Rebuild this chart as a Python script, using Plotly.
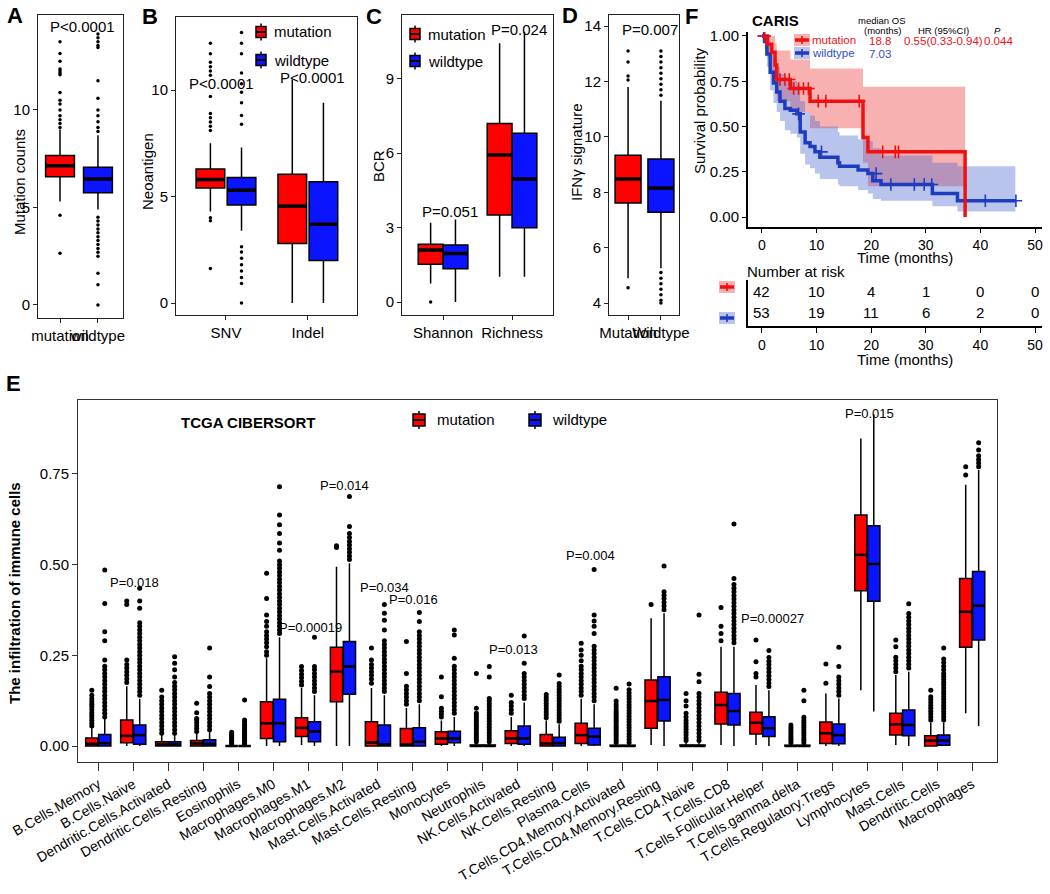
import plotly.graph_objects as go

W, H = 1050, 894
FONT = "Arial, Liberation Sans, Helvetica, sans-serif"
RED = "#FF0000"
BLUE = "#0A14FF"

def px(x):
    return x / W

def py(y):
    return 1 - y / H

# ---------------- DATA ----------------
# Panel A : mutation counts
A_groups = ["mutation", "wildtype"]
A_q1 = [6.58, 5.76]
A_med = [7.14, 6.46]
A_q3 = [7.66, 7.06]
A_lo = [5.3, 4.9]
A_hi = [9.0, 8.7]
A_out_mut = [13.5, 12.9, 12.5, 12.1, 12.0, 11.9, 11.8, 10.9, 10.5, 10.3, 10.0, 9.7, 9.5, 9.3, 9.1, 4.6, 2.65]
A_out_wt = [13.9, 13.7, 13.5, 13.3, 13.2, 11.5, 10.6, 10.0, 9.7, 9.4, 9.1, 8.9,
            4.5, 4.3, 4.1, 3.9, 3.7, 3.5, 3.3, 3.1, 2.9, 2.7, 2.5, 1.62, 1.03, 0.0]
A_p = "P<0.0001"

# Panel B : neoantigen
B_cats = ["SNV", "Indel"]
B_mut_q1 = [5.4, 2.8]
B_mut_med = [5.8, 4.55]
B_mut_q3 = [6.3, 6.05]
B_mut_lo = [4.3, 0.0]
B_mut_hi = [7.5, 10.5]
B_wt_q1 = [4.6, 2.0]
B_wt_med = [5.3, 3.7]
B_wt_q3 = [5.9, 5.7]
B_wt_lo = [3.4, 0.0]
B_wt_hi = [7.3, 9.4]
B_mut_out = [[12.2, 11.7, 11.3, 11.1, 10.9, 10.7, 9.7, 8.9, 8.7, 8.5, 8.3, 8.1, 4.0, 3.86, 1.62], []]
B_wt_out = [[12.7, 12.2, 11.7, 10.8, 10.3, 9.9, 9.4, 8.8, 8.4, 2.64, 2.4, 2.1, 1.8, 1.5, 1.2, 0.92, 0.0], []]
B_p = ["P<0.0001", "P<0.0001"]
B_p_y = [10.33, 10.6]

# Panel C : BCR
C_cats = ["Shannon", "Richness"]
C_mut_q1 = [1.53, 3.51]
C_mut_med = [2.1, 5.93]
C_mut_q3 = [2.33, 7.2]
C_mut_lo = [0.75, 1.02]
C_mut_hi = [3.2, 10.43]
C_wt_q1 = [1.34, 3.0]
C_wt_med = [1.96, 4.96]
C_wt_q3 = [2.3, 6.8]
C_wt_lo = [0.0, 1.02]
C_wt_hi = [3.33, 10.9]
C_mut_out = [[0.0], []]
C_p = ["P=0.051", "P=0.024"]
C_p_y = [3.64, 10.97]

# Panel D : IFNg signature
D_groups = ["Mutation", "Wildtype"]
D_q1 = [7.61, 7.28]
D_med = [8.48, 8.15]
D_q3 = [9.34, 9.2]
D_lo = [4.9, 5.26]
D_hi = [11.8, 11.3]
D_out_mut = [13.1, 12.7, 12.2, 12.05, 4.55]
D_out_wt = [13.1, 12.9, 12.7, 12.5, 12.3, 12.1, 11.9, 11.7, 11.5,
            5.1, 4.9, 4.7, 4.5, 4.3, 4.1, 4.0]
D_p = "P=0.007"

# Panel F : Kaplan-Meier (CARIS)
km_t_mut = [0, 1.0, 1.8, 2.4, 2.7, 5.2, 8.8, 18.5, 19.4, 37.2]
km_s_mut = [1.0, 0.955, 0.91, 0.84, 0.76, 0.71, 0.64, 0.44, 0.36, 0.0]
km_up_mut = [1.0, 1.0, 1.0, 0.96, 0.92, 0.87, 0.82, 0.72, 0.72, 0.0]
km_lo_mut = [1.0, 0.88, 0.80, 0.72, 0.64, 0.58, 0.49, 0.30, 0.17, 0.0]
cens_t_mut = [0.5, 3.3, 4.2, 5.0, 5.8, 6.7, 7.6, 8.5, 10.3, 11.7, 17.8, 22.1, 24.4, 25.0]
cens_s_mut = [1.0, 0.76, 0.76, 0.76, 0.71, 0.71, 0.71, 0.71, 0.64, 0.64, 0.64, 0.36, 0.36, 0.36]

km_t_wt = [0, 0.5, 0.9, 1.5, 2.1, 2.7, 3.3, 4.2, 5.2, 6.4, 7.0, 7.9, 8.8, 9.7, 10.6,
           13.9, 14.2, 17.6, 19.4, 20.3, 21.8, 31.2, 35.8, 46.4]
km_s_wt = [1.0, 0.97, 0.90, 0.80, 0.74, 0.69, 0.64, 0.60, 0.59, 0.57, 0.47, 0.41, 0.39,
           0.36, 0.33, 0.30, 0.28, 0.26, 0.24, 0.20, 0.18, 0.13, 0.09, 0.09]
km_up_wt = [1.0, 1.0, 1.0, 0.92, 0.87, 0.83, 0.79, 0.76, 0.75, 0.73, 0.64, 0.58, 0.56,
            0.53, 0.50, 0.47, 0.45, 0.43, 0.42, 0.38, 0.34, 0.30, 0.28, 0.28]
km_lo_wt = [1.0, 0.93, 0.83, 0.70, 0.63, 0.58, 0.53, 0.48, 0.46, 0.44, 0.35, 0.29, 0.27,
            0.24, 0.21, 0.18, 0.17, 0.15, 0.13, 0.10, 0.09, 0.06, 0.03, 0.03]
cens_t_wt = [0.3, 6.7, 10.9, 20.9, 23.6, 27.9, 29.7, 31.1, 40.9, 46.5]
cens_s_wt = [1.0, 0.57, 0.36, 0.24, 0.18, 0.18, 0.18, 0.18, 0.09, 0.09]

risk_times = [0, 10, 20, 30, 40, 50]
risk_mut = [42, 10, 4, 1, 0, 0]
risk_wt = [53, 19, 11, 6, 2, 0]

# Panel E : TCGA CIBERSORT
E_cats = ["B.Cells.Memory", "B.Cells.Naive", "Dendritic.Cells.Activated", "Dendritic.Cells.Resting",
          "Eosinophils", "Macrophages.M0", "Macrophages.M1", "Macrophages.M2",
          "Mast.Cells.Activated", "Mast.Cells.Resting", "Monocytes", "Neutrophils",
          "NK.Cells.Activated", "NK.Cells.Resting", "Plasma.Cells",
          "T.Cells.CD4.Memory.Activated", "T.Cells.CD4.Memory.Resting", "T.Cells.CD4.Naive",
          "T.Cells.CD8", "T.Cells.Follicular.Helper", "T.Cells.gamma.delta",
          "T.Cells.Regulatory.Tregs", "Lymphocytes", "Mast.Cells", "Dendritic.Cells", "Macrophages"]
E_mut_q1 = [0.0, 0.009, 0.0, 0.0, 0.0, 0.021, 0.026, 0.122, 0.0, 0.0, 0.005, 0.0, 0.007,
            0.0, 0.007, 0.0, 0.049, 0.0, 0.061, 0.033, 0.0, 0.007, 0.428, 0.03, 0.0, 0.272]
E_mut_med = [0.006, 0.028, 0.004, 0.007, 0.0, 0.0625, 0.05, 0.205, 0.01, 0.004, 0.021, 0.0, 0.021,
             0.007, 0.03, 0.0, 0.124, 0.0, 0.113, 0.064, 0.0, 0.035, 0.527, 0.06, 0.015, 0.37]
E_mut_q3 = [0.022, 0.072, 0.012, 0.015, 0.0, 0.122, 0.078, 0.272, 0.067, 0.048, 0.039, 0.003, 0.042,
            0.032, 0.0625, 0.002, 0.182, 0.003, 0.148, 0.093, 0.002, 0.066, 0.637, 0.09, 0.028, 0.462]
E_mut_lo = [0.0, 0.0, 0.0, 0.0, 0.0, 0.0, 0.003, 0.0, 0.0, 0.0, 0.0, 0.0, 0.0,
            0.0, 0.0, 0.0, 0.003, 0.0, 0.003, 0.003, 0.0, 0.0, 0.154, 0.003, 0.0, 0.09]
E_mut_hi = [0.05, 0.165, 0.03, 0.035, 0.0, 0.242, 0.16, 0.494, 0.16, 0.105, 0.07, 0.008, 0.08,
            0.07, 0.13, 0.006, 0.352, 0.01, 0.274, 0.168, 0.005, 0.145, 0.848, 0.196, 0.065, 0.72]
E_wt_q1 = [0.0, 0.005, 0.0, 0.0, 0.0, 0.012, 0.012, 0.143, 0.0, 0.0, 0.009, 0.0, 0.005,
           0.0, 0.003, 0.0, 0.069, 0.0, 0.058, 0.026, 0.0, 0.006, 0.399, 0.028, 0.002, 0.292]
E_wt_med = [0.008, 0.03, 0.004, 0.006, 0.0, 0.0625, 0.04, 0.219, 0.005, 0.012, 0.021, 0.0, 0.021,
            0.008, 0.026, 0.0, 0.127, 0.0, 0.0965, 0.049, 0.0, 0.03, 0.502, 0.058, 0.015, 0.387]
E_wt_q3 = [0.032, 0.058, 0.012, 0.017, 0.0, 0.129, 0.067, 0.288, 0.058, 0.05, 0.041, 0.003, 0.055,
           0.024, 0.049, 0.002, 0.191, 0.003, 0.145, 0.081, 0.002, 0.061, 0.6075, 0.099, 0.03, 0.481]
E_wt_lo = [0.0] * 22 + [0.095, 0.0, 0.0, 0.055]
E_wt_hi = [0.075, 0.13, 0.03, 0.04, 0.0, 0.30, 0.14, 0.504, 0.14, 0.115, 0.08, 0.008, 0.12,
           0.06, 0.115, 0.006, 0.366, 0.01, 0.274, 0.154, 0.005, 0.131, 0.915, 0.205, 0.065, 0.761]
E_mut_out = [
    [0.055, 0.062, 0.07, 0.078, 0.085, 0.092, 0.10, 0.108, 0.115, 0.122, 0.13, 0.14, 0.154],
    [0.175, 0.185, 0.195, 0.205, 0.215, 0.225, 0.237, 0.39, 0.40],
    [0.035, 0.045, 0.055, 0.065, 0.075, 0.085, 0.095, 0.105, 0.115, 0.125, 0.135, 0.154],
    [0.04, 0.048, 0.056, 0.064, 0.072, 0.076, 0.092, 0.118],
    [0.004, 0.008, 0.012, 0.016, 0.02, 0.024, 0.028, 0.032, 0.038],
    [0.25, 0.26, 0.274, 0.285, 0.295, 0.305, 0.315, 0.33, 0.343, 0.361, 0.407, 0.476],
    [0.168, 0.178, 0.188, 0.198, 0.208, 0.219],
    [0.547, 0.552],
    [0.173, 0.185, 0.195, 0.205, 0.215, 0.225, 0.237, 0.27],
    [0.115, 0.125, 0.135, 0.145, 0.155, 0.165, 0.2, 0.288],
    [0.08, 0.088, 0.096, 0.104, 0.136, 0.19],
    [0.012, 0.018, 0.024, 0.03, 0.036, 0.042, 0.048, 0.054, 0.06, 0.066, 0.072, 0.078, 0.084, 0.09, 0.104, 0.2],
    [0.09, 0.1, 0.11, 0.12, 0.14],
    [0.078, 0.086, 0.094, 0.102, 0.11, 0.118, 0.126, 0.134, 0.142],
    [0.14, 0.15, 0.16, 0.17, 0.18, 0.19, 0.2, 0.21, 0.22, 0.235, 0.25, 0.265, 0.283],
    [0.01, 0.016, 0.022, 0.028, 0.034, 0.04, 0.046, 0.052, 0.058, 0.064, 0.07, 0.076, 0.082, 0.088,
     0.094, 0.1, 0.108, 0.116, 0.124, 0.159],
    [0.39],
    [0.015, 0.022, 0.03, 0.038, 0.046, 0.054, 0.062, 0.07, 0.08, 0.09, 0.11, 0.125, 0.145],
    [0.29, 0.31, 0.33, 0.382],
    [0.19, 0.2, 0.232, 0.292],
    [0.009, 0.015, 0.021, 0.027, 0.033, 0.039, 0.045, 0.051, 0.058],
    [0.173, 0.226],
    [],
    [0.205, 0.215, 0.225, 0.235, 0.245, 0.274, 0.292],
    [0.072, 0.08, 0.088, 0.096, 0.104, 0.112, 0.12, 0.128, 0.136, 0.154],
    [0.747, 0.77],
]
E_wt_out = [
    [0.08, 0.09, 0.1, 0.11, 0.12, 0.13, 0.14, 0.15, 0.16, 0.17, 0.18, 0.19, 0.2, 0.21, 0.22, 0.237,
     0.29, 0.315, 0.393, 0.485],
    [0.14, 0.15, 0.16, 0.17, 0.18, 0.19, 0.2, 0.21, 0.22, 0.23, 0.24, 0.25, 0.26, 0.27, 0.28, 0.29,
     0.3, 0.31, 0.32, 0.33, 0.34, 0.38, 0.40, 0.435],
    [0.035, 0.045, 0.055, 0.065, 0.075, 0.085, 0.095, 0.105, 0.115, 0.125, 0.135, 0.145, 0.155,
     0.165, 0.175, 0.19, 0.21, 0.228, 0.246],
    [0.045, 0.055, 0.065, 0.075, 0.085, 0.095, 0.105, 0.115, 0.125, 0.135, 0.145, 0.164, 0.19, 0.27],
    [0.004, 0.008, 0.012, 0.016, 0.02, 0.024, 0.028, 0.032, 0.036, 0.04, 0.045, 0.05, 0.055, 0.06,
     0.066, 0.072, 0.127],
    [0.31, 0.32, 0.33, 0.34, 0.35, 0.36, 0.37, 0.38, 0.39, 0.40, 0.41, 0.42, 0.43, 0.44, 0.45,
     0.46, 0.47, 0.48, 0.49, 0.50, 0.51, 0.54, 0.56, 0.586, 0.61, 0.637, 0.715],
    [0.15, 0.16, 0.17, 0.18, 0.19, 0.2, 0.21, 0.219, 0.30],
    [0.514, 0.524, 0.534, 0.544, 0.554, 0.564, 0.575, 0.586, 0.605, 0.688],
    [0.15, 0.16, 0.17, 0.18, 0.19, 0.2, 0.21, 0.22, 0.23, 0.24, 0.25, 0.26, 0.27, 0.28, 0.29,
     0.32, 0.347, 0.366, 0.39],
    [0.125, 0.135, 0.145, 0.155, 0.165, 0.175, 0.185, 0.195, 0.205, 0.215, 0.225, 0.235, 0.245,
     0.255, 0.265, 0.275, 0.285, 0.295, 0.305, 0.315, 0.343, 0.368],
    [0.09, 0.1, 0.11, 0.12, 0.13, 0.14, 0.15, 0.16, 0.17, 0.18, 0.19, 0.2, 0.21, 0.22, 0.242,
     0.306, 0.32],
    [0.012, 0.02, 0.028, 0.036, 0.044, 0.052, 0.06, 0.068, 0.076, 0.084, 0.092, 0.1, 0.108, 0.116,
     0.124, 0.131, 0.19, 0.219],
    [0.131, 0.14, 0.15, 0.16, 0.17, 0.18, 0.19, 0.2, 0.228, 0.303],
    [0.068, 0.076, 0.084, 0.092, 0.1, 0.108, 0.116, 0.124, 0.132, 0.14, 0.148, 0.156, 0.164,
     0.172, 0.196],
    [0.125, 0.135, 0.145, 0.155, 0.165, 0.175, 0.185, 0.195, 0.205, 0.215, 0.225, 0.235, 0.245,
     0.255, 0.265, 0.275, 0.31, 0.33, 0.345, 0.361, 0.487],
    [0.01, 0.018, 0.026, 0.034, 0.042, 0.05, 0.058, 0.066, 0.074, 0.082, 0.09, 0.098, 0.106,
     0.114, 0.122, 0.13, 0.138, 0.146, 0.155, 0.171],
    [0.376, 0.386, 0.396, 0.406, 0.416, 0.425, 0.496],
    [0.015, 0.025, 0.035, 0.045, 0.055, 0.065, 0.075, 0.085, 0.095, 0.105, 0.115, 0.125, 0.135,
     0.145, 0.177, 0.198, 0.361],
    [0.285, 0.295, 0.305, 0.315, 0.325, 0.335, 0.345, 0.355, 0.365, 0.375, 0.385, 0.395, 0.405,
     0.415, 0.425, 0.435, 0.445, 0.462, 0.612],
    [0.164, 0.174, 0.184, 0.194, 0.204, 0.214, 0.224, 0.234, 0.244, 0.263],
    [0.009, 0.016, 0.023, 0.03, 0.037, 0.044, 0.051, 0.058, 0.065, 0.072, 0.079, 0.125, 0.154],
    [0.14, 0.15, 0.16, 0.17, 0.18, 0.19, 0.219, 0.272],
    [],
    [0.215, 0.225, 0.235, 0.245, 0.255, 0.265, 0.275, 0.285, 0.295, 0.305, 0.315, 0.325, 0.335,
     0.345, 0.355, 0.365, 0.392],
    [0.072, 0.08, 0.088, 0.096, 0.104, 0.112, 0.12, 0.128, 0.136, 0.144, 0.152, 0.16, 0.168,
     0.176, 0.184, 0.192, 0.2, 0.21, 0.22, 0.23, 0.24, 0.27],
    [0.77, 0.78, 0.79, 0.8, 0.816, 0.836],
]
E_p_text = ["P=0.018", "P=0.00019", "P=0.014", "P=0.034", "P=0.016",
            "P=0.013", "P=0.004", "P=0.00027", "P=0.015"]
E_p_x = [1.05, 6.06, 7.03, 8.18, 9.03, 11.87, 14.07, 19.3, 22.05]
E_p_y = [0.452, 0.328, 0.717, 0.437, 0.405, 0.267, 0.526, 0.352, 0.918]

# ---------------- FIGURE ----------------
fig = go.Figure()
layout = dict(width=W, height=H, margin=dict(l=0, r=0, t=0, b=0, autoexpand=False),
              paper_bgcolor="white", plot_bgcolor="white", showlegend=False,
              font=dict(family=FONT, color="black"), hovermode=False)
annotations = []
shapes = []


def ax_ids(n):
    return ("x" if n == 1 else f"x{n}"), ("y" if n == 1 else f"y{n}")


def set_axes(n, xd, yd, xr, yr, xtv, xtt, ytv, ytt, mirror=True, lw=1, lc="#222",
             xangle=0, fs=14, xfs=None, xticklen=4, yticklen=4, yshow=True, yticks="outside"):
    xid, yid = ax_ids(n)
    xk = "xaxis" if n == 1 else f"xaxis{n}"
    yk = "yaxis" if n == 1 else f"yaxis{n}"
    layout[xk] = dict(domain=[px(xd[0]), px(xd[1])], range=xr, anchor=yid, showline=True,
                      mirror=mirror, linecolor=lc, linewidth=lw, ticks="outside",
                      ticklen=xticklen, tickcolor=lc, tickwidth=1, tickvals=xtv, ticktext=xtt,
                      tickangle=xangle, showgrid=False, zeroline=False, automargin=False,
                      tickfont=dict(size=xfs or fs, color="black", family=FONT))
    layout[yk] = dict(domain=[py(yd[1]), py(yd[0])], range=yr, anchor=xid, showline=yshow,
                      mirror=mirror, linecolor=lc, linewidth=lw, ticks=yticks,
                      ticklen=yticklen, tickcolor=lc, tickwidth=1, tickvals=ytv, ticktext=ytt,
                      showgrid=False, zeroline=False, automargin=False,
                      tickfont=dict(size=fs, color="black", family=FONT))


def add_boxes(n, pos, q1, med, q3, lo, hi, color, width, lw=1.5, medw=3.5):
    xid, yid = ax_ids(n)
    fig.add_trace(go.Box(x=pos, q1=q1, median=med, q3=q3, lowerfence=lo, upperfence=hi,
                         orientation="v", width=width, fillcolor=color,
                         line=dict(color="black", width=lw), whiskerwidth=0,
                         boxpoints=False, xaxis=xid, yaxis=yid, hoverinfo="skip"))
    mx, my = [], []
    for p, m in zip(pos, med):
        mx += [p - width / 2, p + width / 2, None]
        my += [m, m, None]
    fig.add_trace(go.Scatter(x=mx, y=my, mode="lines", line=dict(color="black", width=medw),
                             xaxis=xid, yaxis=yid, hoverinfo="skip"))


def add_points(n, pos, outs, size=3.5):
    xid, yid = ax_ids(n)
    xs, ys = [], []
    for p, o in zip(pos, outs):
        xs += [p] * len(o)
        ys += list(o)
    fig.add_trace(go.Scatter(x=xs, y=ys, mode="markers",
                             marker=dict(color="black", size=size, line=dict(width=0)),
                             xaxis=xid, yaxis=yid, hoverinfo="skip"))


def text(x, y, t, size=14, color="black", xanchor="center", yanchor="middle", bold=False,
         angle=0, xref="paper", yref="paper", italic=False):
    if bold:
        t = f"<b>{t}</b>"
    if italic:
        t = f"<i>{t}</i>"
    annotations.append(dict(x=x, y=y, xref=xref, yref=yref, text=t, showarrow=False,
                            xanchor=xanchor, yanchor=yanchor, textangle=angle,
                            font=dict(size=size, color=color, family=FONT)))


def box_icon(xc, yc, color, w=11, h=12):
    shapes.append(dict(type="line", xref="paper", yref="paper", x0=px(xc), x1=px(xc),
                       y0=py(yc - h / 2 - 3), y1=py(yc + h / 2 + 3),
                       line=dict(color="black", width=1.5)))
    shapes.append(dict(type="rect", xref="paper", yref="paper", x0=px(xc - w / 2),
                       x1=px(xc + w / 2), y0=py(yc + h / 2), y1=py(yc - h / 2),
                       fillcolor=color, line=dict(color="black", width=1.5)))
    shapes.append(dict(type="line", xref="paper", yref="paper", x0=px(xc - w / 2),
                       x1=px(xc + w / 2), y0=py(yc), y1=py(yc),
                       line=dict(color="black", width=2)))


# ---- Panel A ----
set_axes(1, (38, 123), (15, 318), [0.42, 2.66], [-0.67, 14.87], [1, 2], A_groups,
         [0, 5, 10], ["0", "5", "10"], fs=15)
A_pos = [1, 2]
add_boxes(1, [A_pos[0]], [A_q1[0]], [A_med[0]], [A_q3[0]], [A_lo[0]], [A_hi[0]], RED, 0.76)
add_boxes(1, [A_pos[1]], [A_q1[1]], [A_med[1]], [A_q3[1]], [A_lo[1]], [A_hi[1]], BLUE, 0.76)
add_points(1, A_pos, [A_out_mut, A_out_wt])
text(1.6, 14.26, A_p, size=15, xref="x", yref="y")
text(px(20), py(182), "Mutation counts", size=15, angle=-90)

# ---- Panel B ----
set_axes(2, (176, 357), (17, 315), [0.39, 2.6], [-0.56, 13.43], [1, 2], B_cats,
         [0, 5, 10], ["0", "5", "10"], fs=15)
B_off = 0.19
B_mpos = [i + 1 - B_off for i in range(2)]
B_wpos = [i + 1 + B_off for i in range(2)]
add_boxes(2, B_mpos, B_mut_q1, B_mut_med, B_mut_q3, B_mut_lo, B_mut_hi, RED, 0.35)
add_boxes(2, B_wpos, B_wt_q1, B_wt_med, B_wt_q3, B_wt_lo, B_wt_hi, BLUE, 0.35)
add_points(2, B_mpos + B_wpos, B_mut_out + B_wt_out)
text(0.94, B_p_y[0], B_p[0], size=15, xref="x2", yref="y2")
text(2.06, B_p_y[1], B_p[1], size=15, xref="x2", yref="y2")
text(px(147), py(172), "Neoantigen", size=15, angle=-90)
box_icon(261, 32, RED, w=10, h=11)
box_icon(261, 60, BLUE, w=10, h=11)
text(px(272), py(32), "mutation", size=15, xanchor="left")
text(px(272), py(60), "wildtype", size=15, xanchor="left")

# ---- Panel C ----
set_axes(3, (402, 553), (15, 315), [0.405, 2.594], [-0.52, 11.57], [1, 2], C_cats,
         [0, 3, 6, 9], ["0", "3", "6", "9"], fs=15)
C_off = 0.18
C_mpos = [i + 1 - C_off for i in range(2)]
C_wpos = [i + 1 + C_off for i in range(2)]
add_boxes(3, C_mpos, C_mut_q1, C_mut_med, C_mut_q3, C_mut_lo, C_mut_hi, RED, 0.36)
add_boxes(3, C_wpos, C_wt_q1, C_wt_med, C_wt_q3, C_wt_lo, C_wt_hi, BLUE, 0.36)
add_points(3, C_mpos, C_mut_out)
text(1.1, C_p_y[0], C_p[0], size=15, xref="x3", yref="y3")
text(2.1, C_p_y[1], C_p[1], size=15, xref="x3", yref="y3")
text(px(378), py(166), "BCR", size=15, angle=-90)
box_icon(415, 34, RED, w=10, h=11)
box_icon(415, 61, BLUE, w=10, h=11)
text(px(426), py(34), "mutation", size=15, xanchor="left")
text(px(426), py(61), "wildtype", size=15, xanchor="left")

# ---- Panel D ----
set_axes(4, (609, 679), (15, 315), [0.42, 2.55], [3.57, 14.4], [1, 2], D_groups,
         [4, 6, 8, 10, 12, 14], ["4", "6", "8", "10", "12", "14"], fs=15)
add_boxes(4, [1], [D_q1[0]], [D_med[0]], [D_q3[0]], [D_lo[0]], [D_hi[0]], RED, 0.79)
add_boxes(4, [2], [D_q1[1]], [D_med[1]], [D_q3[1]], [D_lo[1]], [D_hi[1]], BLUE, 0.79)
add_points(4, [1, 2], [D_out_mut, D_out_wt])
text(1.67, 13.86, D_p, size=15, xref="x4", yref="y4")
text(px(576), py(152), "IFNγ signature", size=15, angle=-90)

# ---- Panel F (KM) ----
set_axes(5, (748, 1042), (32, 227), [-2.56, 51.28], [-0.055, 1.022],
         [0, 10, 20, 30, 40, 50], ["0", "10", "20", "30", "40", "50"],
         [0, 0.25, 0.5, 0.75, 1.0], ["0.00", "0.25", "0.50", "0.75", "1.00"],
         mirror=False, lw=2, lc="black", fs=15, xfs=14, xticklen=4, yticklen=4)
fig.add_trace(go.Scatter(x=km_t_mut, y=km_lo_mut, mode="lines", line=dict(width=0, shape="hv"),
                         xaxis="x5", yaxis="y5", hoverinfo="skip"))
fig.add_trace(go.Scatter(x=km_t_mut, y=km_up_mut, mode="lines", line=dict(width=0, shape="hv"),
                         fill="tonexty", fillcolor="rgba(238,70,70,0.42)",
                         xaxis="x5", yaxis="y5", hoverinfo="skip"))
fig.add_trace(go.Scatter(x=km_t_wt, y=km_lo_wt, mode="lines", line=dict(width=0, shape="hv"),
                         xaxis="x5", yaxis="y5", hoverinfo="skip"))
fig.add_trace(go.Scatter(x=km_t_wt, y=km_up_wt, mode="lines", line=dict(width=0, shape="hv"),
                         fill="tonexty", fillcolor="rgba(70,100,205,0.38)",
                         xaxis="x5", yaxis="y5", hoverinfo="skip"))
fig.add_trace(go.Scatter(x=km_t_wt, y=km_s_wt, mode="lines",
                         line=dict(color="#1E3CC0", width=3.5, shape="hv"),
                         xaxis="x5", yaxis="y5", hoverinfo="skip"))
fig.add_trace(go.Scatter(x=km_t_mut, y=km_s_mut, mode="lines",
                         line=dict(color="#F01010", width=3.5, shape="hv"),
                         xaxis="x5", yaxis="y5", hoverinfo="skip"))
fig.add_trace(go.Scatter(x=cens_t_wt, y=cens_s_wt, mode="markers",
                         marker=dict(symbol="cross-thin", size=9,
                                     line=dict(color="#1E3CC0", width=1.6)),
                         xaxis="x5", yaxis="y5", hoverinfo="skip"))
fig.add_trace(go.Scatter(x=cens_t_mut, y=cens_s_mut, mode="markers",
                         marker=dict(symbol="cross-thin", size=9,
                                     line=dict(color="#F01010", width=1.6)),
                         xaxis="x5", yaxis="y5", hoverinfo="skip"))
text(px(700), py(111), "Survival probability", size=15, angle=-90)
text(px(905), py(257), "Time (months)", size=15)
text(px(750), py(20), "CARIS", size=15, bold=True, xanchor="left")
text(px(882), py(20), "median OS", size=9.5)
text(px(882), py(30.5), "(months)", size=9.5)
text(px(943), py(30.5), "HR (95%CI)", size=9.5)
text(px(997), py(30.5), "P", size=9.5, italic=True)
text(px(810), py(40), "mutation", size=11.5, color="#E8141B", xanchor="left")
text(px(880), py(41), "18.8", size=11.5, color="#E8141B")
text(px(943), py(41), "0.55(0.33-0.94)", size=11.5, color="#E8141B")
text(px(998), py(41), "0.044", size=11.5, color="#E8141B")
text(px(810), py(53), "wildtype", size=11.5, color="#2E4FC8", xanchor="left")
text(px(880), py(54), "7.03", size=11.5, color="#2E4FC8")


def km_icon(xc, yc, fill, line):
    shapes.append(dict(type="rect", xref="paper", yref="paper", x0=px(xc - 8), x1=px(xc + 8),
                       y0=py(yc + 6), y1=py(yc - 6), fillcolor=fill, line=dict(width=0)))
    shapes.append(dict(type="line", xref="paper", yref="paper", x0=px(xc - 7), x1=px(xc + 7),
                       y0=py(yc), y1=py(yc), line=dict(color=line, width=3.5)))
    shapes.append(dict(type="line", xref="paper", yref="paper", x0=px(xc), x1=px(xc),
                       y0=py(yc - 4), y1=py(yc + 4), line=dict(color=line, width=1.6)))


km_icon(802, 40, "rgba(238,70,70,0.42)", "#F01010")
km_icon(802, 53, "rgba(70,100,205,0.38)", "#1E3CC0")

# ---- Risk table ----
set_axes(6, (748, 1042), (280, 326), [-2.56, 51.28], [0, 1],
         [0, 10, 20, 30, 40, 50], ["0", "10", "20", "30", "40", "50"],
         [], [], mirror=False, lw=2, lc="black", fs=15, xfs=14, xticklen=5, yticks="")
text(px(745), py(272), "Number at risk", size=15, xanchor="left")
for t, a, b in zip(risk_times, risk_mut, risk_wt):
    text(t, 0.74, str(a), size=15, xref="x6", yref="y6")
    text(t, 0.30, str(b), size=15, xref="x6", yref="y6")
text(px(905), py(359), "Time (months)", size=15)
km_icon(727, 287, "rgba(238,70,70,0.42)", "#F01010")
km_icon(727, 318, "rgba(70,100,205,0.38)", "#1E3CC0")

# ---- Panel E ----
set_axes(7, (78, 997), (400, 762), [-0.58, 25.71], [-0.0441, 0.954],
         list(range(len(E_cats))), E_cats, [0, 0.25, 0.5, 0.75],
         ["0.00", "0.25", "0.50", "0.75"], lc="#333", xangle=-30, fs=15, xfs=14,
         xticklen=8, yticklen=5)
E_off = 0.185
E_mpos = [i - E_off for i in range(len(E_cats))]
E_wpos = [i + E_off for i in range(len(E_cats))]
add_boxes(7, E_mpos, E_mut_q1, E_mut_med, E_mut_q3, E_mut_lo, E_mut_hi, RED, 0.35,
          lw=1.5, medw=2.5)
add_boxes(7, E_wpos, E_wt_q1, E_wt_med, E_wt_q3, E_wt_lo, E_wt_hi, BLUE, 0.35,
          lw=1.5, medw=2.5)
add_points(7, E_mpos + E_wpos, E_mut_out + E_wt_out, size=5)
for t, xv, yv in zip(E_p_text, E_p_x, E_p_y):
    text(xv, yv, t, size=13, xref="x7", yref="y7")
text(px(14), py(593), "The infiltration of immune cells", size=15, bold=True, angle=-90)
text(px(248), py(422), "TCGA CIBERSORT", size=15, bold=True)
box_icon(419, 420, RED, w=12, h=12)
box_icon(535, 420, BLUE, w=12, h=12)
text(px(435), py(419), "mutation", size=15, xanchor="left")
text(px(550), py(419), "wildtype", size=15, xanchor="left")

# ---- Panel letters ----
for L, (lx, ly) in {"A": (15, 15), "B": (150, 16), "C": (374, 16), "D": (570, 15),
                    "F": (692, 16), "E": (13, 383)}.items():
    text(px(lx), py(ly), L, size=22, bold=True)

layout["annotations"] = annotations
layout["shapes"] = shapes
fig.update_layout(**layout)
# remove the browser's default 8px page margin so the figure fills the window exactly
fig.write_html("out.html", config={"displayModeBar": False, "staticPlot": True},
               post_script="document.body.style.margin='0px';document.body.style.overflow='hidden';")
